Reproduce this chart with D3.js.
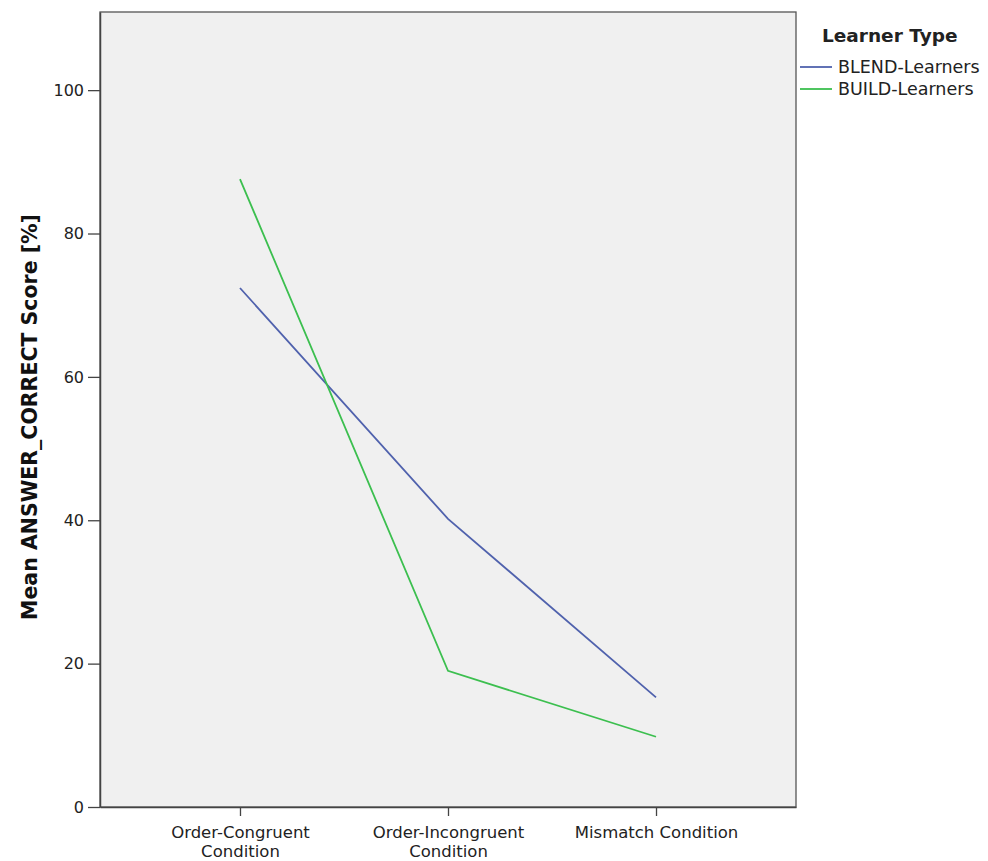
<!DOCTYPE html>
<html><head><meta charset="utf-8">
<script src="https://cdn.jsdelivr.net/npm/d3@7"></script>
<style>body{margin:0;background:#fff}</style>
</head><body>
<svg id="chart" width="988" height="861"></svg>
<script>
const categories = [["Order-Congruent","Condition"],["Order-Incongruent","Condition"],["Mismatch Condition"]];
const categoryKeys = ["Order-Congruent Condition","Order-Incongruent Condition","Mismatch Condition"];
const seriesNames = ["BLEND-Learners","BUILD-Learners"];
const blendValues = [72.4, 40.2, 15.3];
const buildValues = [87.6, 19.0, 9.8];
const yTicks = [0,20,40,60,80,100];
const colors = ["#5062ad","#3cbf4f"];

const svg = d3.select("#chart");
const font = "'DejaVu Sans', sans-serif";
const m = {left:100, right:796, top:12, bottom:807};

const x = d3.scalePoint().domain(categoryKeys).range([m.left, m.right]).padding(0.673);
const y = d3.scaleLinear().domain([0, 110.9]).range([m.bottom, m.top]);

svg.append("rect").attr("x",m.left).attr("y",m.top).attr("width",m.right-m.left).attr("height",m.bottom-m.top)
  .attr("fill","#f0f0f0").attr("stroke","#555").attr("stroke-width",1.3);

// y axis
const ya = svg.append("g").attr("transform",`translate(${m.left},0)`)
  .call(d3.axisLeft(y).tickValues(yTicks).tickSize(12).tickSizeOuter(0).tickPadding(4));
ya.select(".domain").attr("stroke","#444").attr("stroke-width",1.5);
ya.selectAll(".tick line").attr("stroke","#444").attr("stroke-width",1.3);
ya.selectAll(".tick text").attr("font-family",font).attr("font-size",16).attr("fill","#222");

// x axis
const xa = svg.append("g").attr("transform",`translate(0,${m.bottom})`)
  .call(d3.axisBottom(x).tickSize(9).tickSizeOuter(0).tickFormat(""));
xa.select(".domain").attr("stroke","#444").attr("stroke-width",1.5);
xa.selectAll(".tick line").attr("stroke","#444").attr("stroke-width",1.3);
xa.selectAll(".tick").each(function(d,i){
  const t = d3.select(this).append("text").attr("fill","#222").attr("font-family",font).attr("font-size",16.5)
    .attr("text-anchor","middle");
  categories[i].forEach((ln,j)=>t.append("tspan").attr("x",0).attr("y",31+j*19).text(ln));
});

// y label
svg.append("text").attr("transform",`translate(37,${417}) rotate(-90)`)
  .attr("text-anchor","middle").attr("font-family",font).attr("font-size",20.5).attr("font-weight","bold")
  .attr("fill","#111").text("Mean ANSWER_CORRECT Score [%]");

const line = d3.line().x((d,i)=>x(categoryKeys[i])).y(d=>y(d));
[blendValues, buildValues].forEach((vals,k)=>{
  svg.append("path").datum(vals).attr("d",line).attr("fill","none").attr("stroke",colors[k]).attr("stroke-width",1.8);
});

// legend
const lg = svg.append("g");
lg.append("text").attr("x",822).attr("y",42).attr("font-family",font).attr("font-size",18.5).attr("font-weight","bold")
  .attr("fill","#222").text("Learner Type");
seriesNames.forEach((s,i)=>{
  const yy = 67 + i*22;
  lg.append("line").attr("x1",800).attr("x2",832).attr("y1",yy).attr("y2",yy).attr("stroke",colors[i]).attr("stroke-width",1.8);
  lg.append("text").attr("x",838).attr("y",yy+6).attr("font-family",font).attr("font-size",17.5).attr("fill","#222").text(s);
});
</script>
</body></html>
